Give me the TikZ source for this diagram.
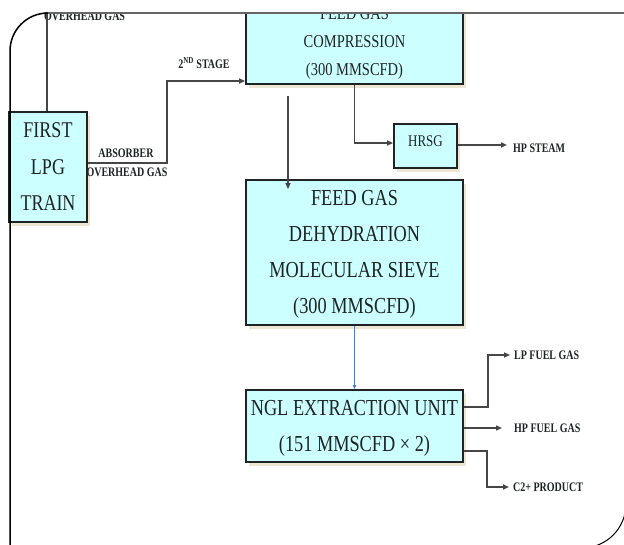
\documentclass[tikz,border=0pt]{standalone}
\usepackage{fontspec}
\setmainfont{Liberation Serif}
\usepackage{graphicx}
\usetikzlibrary{arrows.meta,shadows}

\definecolor{unitfill}{RGB}{204,255,255}
\definecolor{unitshadow}{RGB}{236,230,210}
\definecolor{pipecol}{RGB}{70,70,70}
\definecolor{bluepipe}{RGB}{80,125,205}
\definecolor{inkcol}{RGB}{30,35,35}

% stacked, slightly tall lettering inside the process units
\newcommand\unitlines[3]{\scalebox{1}[1.25]{\fontsize{#1}{#2}\selectfont\begin{tabular}{@{}c@{}}#3\end{tabular}}}
% small bold stream names
\newcommand\streamtag[1]{\scalebox{1}[1.3]{\fontsize{10}{12}\selectfont\bfseries #1}}

\begin{document}
\begin{tikzpicture}[x=1pt,y=-1pt,
  unit/.style={draw=inkcol, line width=1.8pt, fill=unitfill, inner sep=0pt, text=inkcol,
    drop shadow={shadow xshift=3pt, shadow yshift=-4pt, fill=unitshadow, opacity=1}},
  flow/.style={draw=pipecol, line width=1.6pt, -{Triangle[length=6pt,width=5pt]}},
  pipeline/.style={draw=pipecol, line width=1.6pt},
  bluflow/.style={draw=bluepipe, line width=0.8pt, -{Triangle[length=4pt,width=3.5pt]}},
  tag/.style={inner sep=0pt, text=inkcol}]
\useasboundingbox (0,0) rectangle (624,545);
\fill[white] (0,0) rectangle (624,545);

\begin{scope}
\clip (0,13) rectangle (624,545);

% process units
\node[unit, minimum width=217pt, minimum height=84pt] (comp) at (354.5,42)
  {\unitlines{14.5}{22.2}{FEED GAS\\COMPRESSION\\(300 MMSCFD)}};
\node[unit, minimum width=78pt, minimum height=110pt] (lpg) at (48,167)
  {\unitlines{18}{29.2}{FIRST\\LPG\\TRAIN}};
\node[unit, minimum width=63pt, minimum height=44pt] (hrsg) at (425.5,146) {};
\node[tag, font=\fontsize{13}{15}\selectfont] (hrsgtxt) at (425.5,141) {\scalebox{1}[1.25]{HRSG}};
\node[unit, minimum width=217pt, minimum height=145pt] (dehy) at (354.5,252.5)
  {\unitlines{18.3}{28.8}{FEED GAS\\DEHYDRATION\\MOLECULAR SIEVE\\(300 MMSCFD)}};
\node[unit, minimum width=217pt, minimum height=72pt] (ngl) at (354.5,426)
  {\unitlines{18.3}{28.8}{NGL EXTRACTION UNIT\\(151 MMSCFD × 2)}};

% stream names
\node[tag, anchor=west] (ovhtop) at (44,16) {\streamtag{OVERHEAD GAS}};
\node[tag] (absorb) at (126,153) {\streamtag{ABSORBER}};
\node[tag] (ovhlow) at (127,172) {\streamtag{OVERHEAD GAS}};
\node[tag] (stage) at (204,63) {\streamtag{2\textsuperscript{ND} STAGE}};
\node[tag, anchor=west] (hps) at (513,148) {\streamtag{HP STEAM}};
\node[tag, anchor=west] (lpf) at (514,355) {\streamtag{LP FUEL GAS}};
\node[tag, anchor=west] (hpf) at (514,428) {\streamtag{HP FUEL GAS}};
\node[tag, anchor=west] (c2p) at (513,487) {\streamtag{C2+ PRODUCT}};

% connecting lines
\coordinate (ovhend) at (47,0);
\draw[pipeline] ([xshift=-1pt]lpg.north) -- (ovhend);
\draw[flow] ([yshift=4pt]lpg.east) -- ++(79,0) |- ([yshift=-39pt]comp.west);
\draw[flow, shorten <=11pt, shorten >=-10pt] ([xshift=-66.5pt]comp.south) -- ([xshift=-66.5pt]dehy.north);
\draw[flow] (comp.south) |- ([yshift=3pt]hrsg.west);
\draw[flow, shorten >=6pt] ([yshift=1pt]hrsg.east) -- ([yshift=1pt]hrsg.east -| hps.west);
\draw[bluflow] (dehy.south) -- (ngl.north);
\draw[flow, shorten >=4pt] ([yshift=19pt]ngl.east) -- ++(24,0) |- (lpf.west);
\draw[flow, shorten >=12pt] ([yshift=-2pt]ngl.east) -- ([yshift=-2pt]ngl.east -| hpf.west);
\draw[flow, shorten >=4pt] ([yshift=-25pt]ngl.east) -- ++(23,0) |- (c2p.west);
\end{scope}

% outer frame
\draw[black, line width=1.5pt, rounded corners=38pt] (10,560) -- (10,13) -- (70,13);
\draw[black!60, line width=2pt] (48,13) -- (630,13);
\draw[black, line width=1pt, rounded corners=44pt] (626,380) -- (626,548) -- (450,548);
\end{tikzpicture}
\end{document}
